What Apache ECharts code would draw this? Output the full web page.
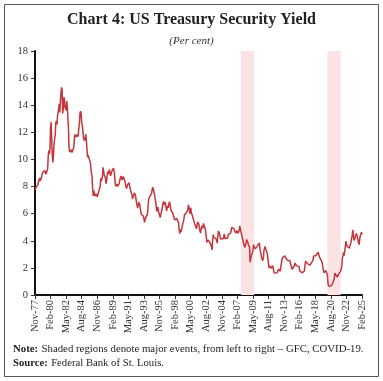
<!DOCTYPE html>
<html><head><meta charset="utf-8">
<script src="https://cdn.jsdelivr.net/npm/echarts@6/dist/echarts.min.js"></script>
<style>html,body{margin:0;padding:0;background:#fff}#c{width:383px;height:381px}</style>
</head><body><div id="c"></div>
<script>
// Monthly 10-year US Treasury yield, Nov-1977 .. Feb-2025 (per cent)
const yields1977to1979 = [7.75,7.87,
 7.96,8.03,8.04,8.15,8.35,8.46,8.64,8.41,8.42,8.64,8.81,9.01,
 9.10,9.10,9.12,9.18,9.25,8.91,8.95,9.03,9.33,10.30,10.65,10.39];
const yields1980s = [
 10.80,12.41,12.75,11.47,10.18,9.78,10.25,11.10,11.51,11.75,12.68,12.84,
 12.57,13.19,13.12,13.68,14.10,13.47,14.28,14.94,15.32,15.15,13.39,13.72,
 14.59,14.43,13.86,13.87,13.62,14.30,13.95,13.06,12.34,10.91,10.55,10.54,
 10.46,10.72,10.51,10.40,10.38,10.85,11.38,11.85,11.65,11.54,11.69,11.83,
 11.67,11.84,12.32,12.63,13.41,13.56,13.36,12.72,12.52,12.16,11.57,11.50,
 11.38,11.51,11.86,11.43,10.85,10.16,10.31,10.33,10.37,10.24,9.78,9.26,
 9.19,8.70,7.78,7.30,7.71,7.80,7.30,7.17,7.45,7.43,7.25,7.11,
 7.08,7.25,7.25,8.02,8.61,8.40,8.45,8.76,9.42,9.52,8.86,8.99,
 8.67,8.21,8.37,8.72,9.09,8.92,9.06,9.26,8.98,8.80,8.96,9.11,
 9.09,9.17,9.36,9.18,8.86,8.28,8.02,8.11,8.19,8.01,7.87,7.84];
const yields1990s = [
 8.21,8.47,8.59,8.79,8.76,8.48,8.47,8.75,8.89,8.72,8.39,8.08,
 8.09,7.85,8.11,8.04,8.07,8.28,8.27,7.90,7.65,7.53,7.42,7.09,
 7.03,7.34,7.54,7.48,7.39,7.26,6.84,6.59,6.42,6.59,6.87,6.77,
 6.60,6.26,5.98,5.97,6.04,5.96,5.81,5.68,5.36,5.33,5.72,5.77,
 5.75,5.97,6.48,6.97,7.18,7.10,7.30,7.24,7.46,7.74,7.96,7.81,
 7.78,7.47,7.20,7.06,6.63,6.17,6.28,6.49,6.20,6.04,5.93,5.71,
 5.65,5.81,6.27,6.51,6.74,6.91,6.87,6.64,6.83,6.53,6.20,6.30,
 6.58,6.42,6.69,6.89,6.71,6.49,6.22,6.30,6.21,6.03,5.88,5.81,
 5.54,5.57,5.65,5.64,5.65,5.50,5.46,5.34,4.81,4.53,4.83,4.65,
 4.72,5.00,5.23,5.18,5.54,5.90,5.79,5.94,5.92,6.11,6.03,6.28];
const yields2000s = [
 6.66,6.52,6.26,5.99,6.44,6.10,6.05,5.83,5.80,5.74,5.72,5.24,
 5.16,5.10,4.89,5.14,5.39,5.28,5.24,4.97,4.73,4.57,4.65,5.09,
 5.04,4.91,5.28,5.21,5.16,4.93,4.65,4.26,3.87,3.94,4.05,4.03,
 4.05,3.90,3.81,3.96,3.57,3.33,3.98,4.45,4.27,4.29,4.30,4.27,
 4.15,4.08,3.83,4.35,4.72,4.73,4.50,4.28,4.13,4.10,4.19,4.23,
 4.22,4.17,4.50,4.34,4.14,4.00,4.18,4.26,4.20,4.46,4.54,4.47,
 4.42,4.57,4.72,4.99,5.11,5.11,5.09,4.88,4.72,4.73,4.60,4.56,
 4.76,4.72,4.56,4.69,4.75,5.10,5.00,4.67,4.52,4.53,4.15,4.10,
 3.74,3.74,3.51,3.68,3.88,4.10,4.01,3.89,3.69,3.81,3.53,2.42,
 2.52,2.87,2.82,2.93,3.29,3.72,3.56,3.59,3.40,3.39,3.40,3.59];
const yields2010s = [
 3.73,3.69,3.73,3.85,3.42,3.20,3.01,2.70,2.65,2.54,2.76,3.29,
 3.39,3.58,3.41,3.46,3.17,3.00,3.00,2.30,1.98,2.15,2.01,1.98,
 1.97,1.97,2.17,2.05,1.80,1.62,1.53,1.68,1.72,1.75,1.65,1.72,
 1.91,1.98,1.96,1.76,1.93,2.30,2.58,2.74,2.81,2.62,2.72,2.90,
 2.86,2.71,2.72,2.71,2.56,2.60,2.54,2.42,2.53,2.30,2.33,2.21,
 1.88,1.98,2.04,1.94,2.20,2.36,2.32,2.17,2.17,2.07,2.26,2.24,
 2.09,1.78,1.89,1.81,1.81,1.64,1.50,1.56,1.63,1.76,2.14,2.49,
 2.43,2.42,2.48,2.30,2.30,2.19,2.32,2.21,2.20,2.36,2.35,2.40,
 2.58,2.86,2.84,2.87,2.98,2.91,2.89,2.89,3.00,3.15,3.12,2.83,
 2.71,2.68,2.57,2.53,2.40,2.07,2.06,1.63,1.70,1.71,1.81,1.86];
const yields2020s = [
 1.76,1.50,0.87,0.66,0.67,0.73,0.62,0.65,0.68,0.79,0.87,0.93,
 1.08,1.26,1.61,1.64,1.62,1.52,1.32,1.28,1.37,1.58,1.56,1.47,
 1.76,1.93,2.13,2.75,2.90,3.14,2.90,2.90,3.52,3.98,3.89,3.62,
 3.53,3.75,3.66,3.46,3.57,3.75,3.90,4.17,4.38,4.80,4.50,4.02,
 4.06,4.21,4.21,4.54,4.48,4.31,4.25,3.87,3.72,4.10,4.36,4.39,
 4.63,4.45];
const yieldValues = [].concat(yields1977to1979, yields1980s, yields1990s, yields2000s, yields2010s, yields2020s);

const monthNames = ['Jan','Feb','Mar','Apr','May','Jun','Jul','Aug','Sep','Oct','Nov','Dec'];
const startYear = 1977, startMonth = 10; // Nov-77
const months = [];
for (let i = 0; i < yieldValues.length; i++) {
  const m = (startMonth + i) % 12, y = startYear + Math.floor((startMonth + i) / 12);
  months.push(monthNames[m] + '-' + String(y % 100).padStart(2, '0'));
}
const eventPeriods = [['Aug-07','Jul-09'], ['Feb-20','Jan-22']];
const yTicks = [0, 2, 4, 6, 8, 10, 12, 14, 16, 18];
const labelStep = 27;

const serif = 'Liberation Serif';
const chart = echarts.init(document.getElementById('c'), null, {renderer: 'canvas'});
chart.setOption({
  animation: false,
  backgroundColor: '#fff',
  title: [{
    text: 'Chart 4: US Treasury Security Yield', left: 'center', top: 7,
    textStyle: {fontFamily: serif, fontWeight: 'bold', fontSize: 16, color: '#222'}
  }, {
    text: '(Per cent)', left: 'center', top: 31,
    textStyle: {fontFamily: serif, fontStyle: 'italic', fontWeight: 'normal', fontSize: 11, color: '#333'}
  }],
  graphic: [
    {type: 'rect', shape: {x: 4.5, y: 4.5, width: 374, height: 372}, style: {fill: 'none', stroke: '#555', lineWidth: 1}, z: -1},
    {type: 'text', left: 13, top: 343, style: {rich: {b: {fontWeight: 'bold', fontFamily: serif, fontSize: 10.8, fill: '#222'}, n: {fontFamily: serif, fontSize: 10.8, fill: '#222'}},
      text: '{b|Note:} {n|Shaded regions denote major events, from left to right – GFC, COVID-19.}'}},
    {type: 'text', left: 13, top: 357, style: {rich: {b: {fontWeight: 'bold', fontFamily: serif, fontSize: 10.7, fill: '#222'}, n: {fontFamily: serif, fontSize: 10.7, fill: '#222'}},
      text: '{b|Source:} {n|Federal Bank of St. Louis.}'}}
  ],
  grid: {left: 35, right: 21, top: 51, bottom: 86, containLabel: false},
  xAxis: {
    type: 'category', data: months, boundaryGap: false,
    axisLine: {lineStyle: {color: '#111', width: 2}},
    axisTick: {show: true, interval: labelStep - 1, length: 4, lineStyle: {color: '#333'}},
    axisLabel: {interval: labelStep - 1, rotate: 90, fontFamily: serif, fontSize: 10.5, color: '#333', margin: 5},
    splitLine: {show: false}
  },
  yAxis: {
    type: 'value', min: yTicks[0], max: yTicks[yTicks.length - 1], interval: 2,
    axisLine: {show: true, lineStyle: {color: '#111', width: 2}},
    axisTick: {show: true, length: 4, lineStyle: {color: '#333'}},
    axisLabel: {fontFamily: serif, fontSize: 10.5, color: '#333', margin: 7},
    splitLine: {show: false}
  },
  series: [{
    type: 'line', data: yieldValues, showSymbol: false, symbol: 'none',
    lineStyle: {color: '#c4363b', width: 1.5},
    markArea: {silent: true, itemStyle: {color: '#fce3e3'},
      data: eventPeriods.map(p => [{xAxis: p[0]}, {xAxis: p[1]}])}
  }]
});
</script></body></html>
